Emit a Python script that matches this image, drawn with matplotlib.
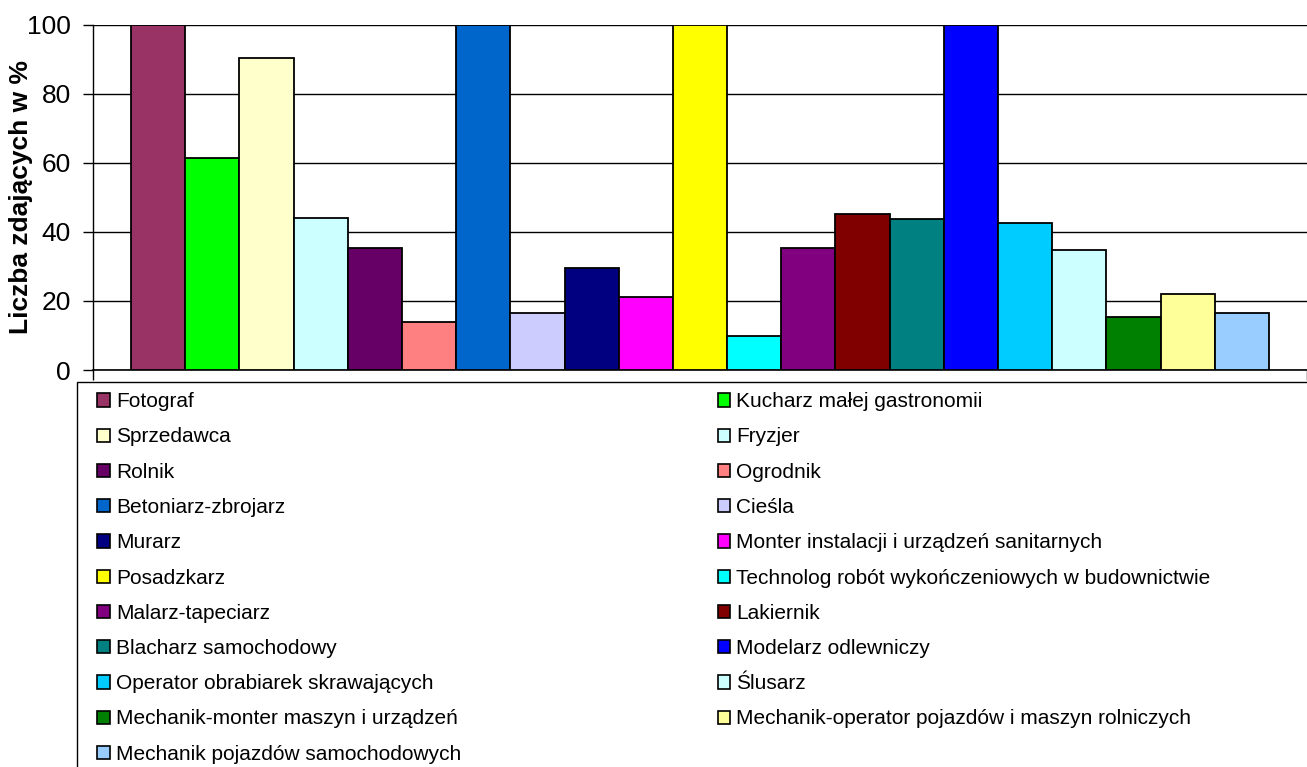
import numpy as np
import matplotlib
matplotlib.use("Agg")
import matplotlib.pyplot as plt
from matplotlib.patches import Patch, Rectangle

plt.rcParams['font.family'] = ['Liberation Sans', 'DejaVu Sans']

# data
zawody = ["Fotograf", "Kucharz małej gastronomii", "Sprzedawca", "Fryzjer", "Rolnik",
          "Ogrodnik", "Betoniarz-zbrojarz", "Cieśla", "Murarz",
          "Monter instalacji i urządzeń sanitarnych", "Posadzkarz",
          "Technolog robót wykończeniowych w budownictwie", "Malarz-tapeciarz",
          "Lakiernik", "Blacharz samochodowy", "Modelarz odlewniczy",
          "Operator obrabiarek skrawających", "Ślusarz",
          "Mechanik-monter maszyn i urządzeń",
          "Mechanik-operator pojazdów i maszyn rolniczych",
          "Mechanik pojazdów samochodowych"]
procent = [100, 61.3, 90.4, 43.9, 35.2, 14.0, 100, 16.6, 29.4, 21.2, 100,
           9.9, 35.2, 45.1, 43.8, 100, 42.6, 34.7, 15.4, 22.0, 16.4]
kolory = ["#993366", "#00FF00", "#FFFFCC", "#CCFFFF", "#660066", "#FF8080",
          "#0066CC", "#CCCCFF", "#000080", "#FF00FF", "#FFFF00", "#00FFFF",
          "#800080", "#800000", "#008080", "#0000FF", "#00CCFF", "#CCFFFF",
          "#008000", "#FFFF99", "#99CCFF"]
yticks = [0, 20, 40, 60, 80, 100]

W, H = 1307, 767
fig = plt.figure(figsize=(W / 100, H / 100), dpi=100)
ax = fig.add_axes([93 / W, 1 - 370 / H, (1307 - 93) / W, (370 - 24.5) / H])

x = np.arange(len(procent))
ax.bar(x, procent, width=1.0, color=kolory, edgecolor="black", linewidth=1.3, zorder=3)

ax.set_xlim(-1.2, len(procent) - 1 + 1.2)
ax.set_ylim(0, 100)
ax.set_yticks(yticks)
ax.tick_params(axis='y', labelsize=19, length=7, width=1, direction='out', pad=9)
ax.set_xticks([-1.2, len(procent) - 1 + 1.2])
ax.set_xticklabels([])
ax.tick_params(axis='x', length=7, width=1, direction='out')
ax.yaxis.grid(True, color="black", linewidth=1, zorder=0)
for s in ['top', 'right']:
    ax.spines[s].set_visible(False)
ax.spines['left'].set_linewidth(1)
ax.spines['bottom'].set_linewidth(1.2)
ax.set_ylabel("Liczba zdających w %", fontsize=19, fontweight='bold')
ax.yaxis.set_label_coords((33 - 93) / 1214, 0.5)

# legend frame
fig.patches.append(Rectangle((77 / W, -0.05), 1.1, (H - 382) / H + 0.05,
                             transform=fig.transFigure, fill=False,
                             edgecolor="black", linewidth=1, zorder=1))

# legend, row-wise order in two columns
handles = [Patch(facecolor=c, edgecolor="black", linewidth=1.2) for c in kolory]
order = list(range(0, len(zawody), 2)) + list(range(1, len(zawody), 2))
fig.legend([handles[i] for i in order], [zawody[i] for i in order],
           ncol=2, loc='upper left', bbox_to_anchor=(91 / W, 1 - 386 / H),
           frameon=False, fontsize=15, handlelength=0.6, handleheight=0.6,
           handletextpad=0.3, labelspacing=0.78, columnspacing=12.3,
           borderaxespad=0, borderpad=0.3)

fig.savefig("out.png", dpi=100)
